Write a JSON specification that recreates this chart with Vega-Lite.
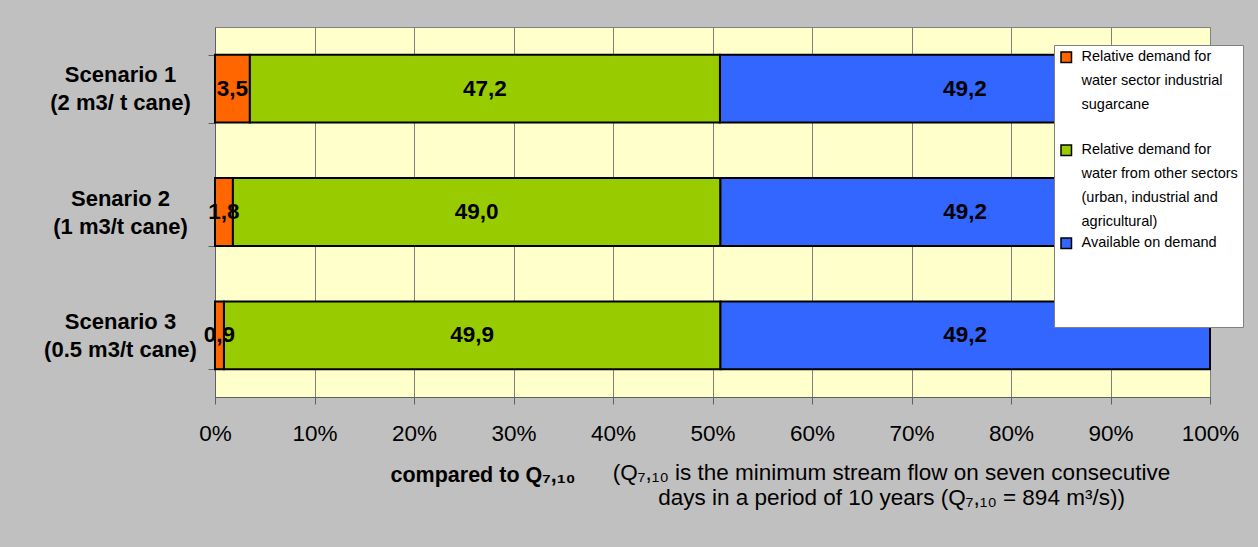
{
  "$schema": "https://vega.github.io/schema/vega-lite/v6.json",
  "width": 995,
  "height": 370,
  "autosize": {"type": "none"},
  "padding": {"left": 215, "top": 27, "right": 48, "bottom": 150},
  "background": "#C0C0C0",
  "config": {
    "font": "Liberation Sans",
    "locale": {"number": {"decimal": ",", "thousands": ".", "grouping": [3], "currency": ["", ""]}},
    "view": {"fill": "#FFFFCC", "stroke": "#808080", "strokeWidth": 1}
  },
  "data": {
    "values": [
      {"scenario": "Scenario 1 (2 m3/ t cane)", "part": "Relative demand for water sector industrial sugarcane", "idx": 1, "value": 3.5},
      {"scenario": "Scenario 1 (2 m3/ t cane)", "part": "Relative demand for water from other sectors (urban, industrial and agricultural)", "idx": 2, "value": 47.2},
      {"scenario": "Scenario 1 (2 m3/ t cane)", "part": "Available on demand", "idx": 3, "value": 49.2},
      {"scenario": "Senario 2 (1 m3/t cane)", "part": "Relative demand for water sector industrial sugarcane", "idx": 1, "value": 1.8},
      {"scenario": "Senario 2 (1 m3/t cane)", "part": "Relative demand for water from other sectors (urban, industrial and agricultural)", "idx": 2, "value": 49.0},
      {"scenario": "Senario 2 (1 m3/t cane)", "part": "Available on demand", "idx": 3, "value": 49.2},
      {"scenario": "Scenario 3 (0.5 m3/t cane)", "part": "Relative demand for water sector industrial sugarcane", "idx": 1, "value": 0.9},
      {"scenario": "Scenario 3 (0.5 m3/t cane)", "part": "Relative demand for water from other sectors (urban, industrial and agricultural)", "idx": 2, "value": 49.9},
      {"scenario": "Scenario 3 (0.5 m3/t cane)", "part": "Available on demand", "idx": 3, "value": 49.2}
    ]
  },
  "encoding": {
    "y": {
      "field": "scenario",
      "type": "nominal",
      "sort": null,
      "scale": {"paddingInner": 0.45, "paddingOuter": 0.225},
      "axis": {
        "tickBand": "extent",
        "tickSize": 7,
        "tickColor": "#606060",
        "domainColor": "#606060",
        "labelAlign": "center",
        "labelBaseline": "middle",
        "labelPadding": 88,
        "labelOffset": -14,
        "labelFontSize": 22,
        "labelFontWeight": "bold",
        "labelColor": "#000000",
        "labelLineHeight": 28,
        "labelLimit": 300,
        "labelExpr": "[slice(datum.label, 0, indexof(datum.label, ' (')), slice(datum.label, indexof(datum.label, ' (') + 1)]",
        "title": "compared to Q₇,₁₀",
        "titleAngle": 0,
        "titleAlign": "left",
        "titleBaseline": "top",
        "titleX": 175,
        "titleY": 437,
        "titleFontSize": 21.5,
        "titleFontWeight": "bold",
        "titleColor": "#000000"
      }
    }
  },
  "layer": [
    {
      "mark": {"type": "bar", "stroke": "#000000", "strokeWidth": 2},
      "encoding": {
        "x": {
          "field": "value",
          "type": "quantitative",
          "stack": "normalize",
          "scale": {"domain": [0, 1], "nice": false},
          "axis": {
            "format": ".0%",
            "values": [0, 0.1, 0.2, 0.3, 0.4, 0.5, 0.6, 0.7, 0.8, 0.9, 1],
            "grid": true,
            "gridColor": "#808080",
            "gridWidth": 1,
            "gridOpacity": 1,
            "tickSize": 7,
            "tickColor": "#606060",
            "domainColor": "#606060",
            "labelFontSize": 22.5,
            "labelColor": "#000000",
            "labelPadding": 18,
            "labelFlush": false,
            "title": ["(Q₇,₁₀ is the minimum stream flow on seven consecutive", "days in a period of 10 years (Q₇,₁₀ = 894 m³/s))"],
            "titleFontSize": 22.5,
            "titleFontWeight": "normal",
            "titleColor": "#000000",
            "titleAlign": "center",
            "titleBaseline": "top",
            "titleLineHeight": 25,
            "titleX": 676,
            "titleY": 64
          }
        },
        "color": {
          "field": "part",
          "type": "nominal",
          "scale": {
            "domain": ["Relative demand for water sector industrial sugarcane", "Relative demand for water from other sectors (urban, industrial and agricultural)", "Available on demand"],
            "range": ["#FF6600", "#99CC00", "#3366FF"]
          },
          "legend": {
            "title": null,
            "orient": "none",
            "legendX": 839,
            "legendY": 18,
            "fillColor": "#FFFFFF",
            "strokeColor": "#808080",
            "padding": 5,
            "symbolType": "square",
            "symbolSize": 110,
            "symbolStrokeColor": "#000000",
            "symbolStrokeWidth": 1.5,
            "symbolOpacity": 1,
            "labelOffset": 8,
            "labelFontSize": 14.5,
            "labelColor": "#000000",
            "labelBaseline": "middle",
            "labelLimit": 250,
            "rowPadding": 6,
            "encode": {"labels": {"update": {"lineHeight": {"value": 24}}}},
            "labelExpr": "datum.label == 'Relative demand for water sector industrial sugarcane' ? ['Relative demand for', 'water sector industrial', 'sugarcane', ''] : datum.label == 'Available on demand' ? ['Available on demand', '', '', ''] : ['Relative demand for', 'water from other sectors', '(urban, industrial and', 'agricultural)']"
          }
        },
        "order": {"field": "idx", "type": "quantitative"}
      }
    },
    {
      "mark": {"type": "text", "fontSize": 22.5, "fontWeight": "bold", "color": "#000000"},
      "encoding": {
        "x": {"field": "value", "type": "quantitative", "stack": "normalize", "bandPosition": 0.5},
        "detail": {"field": "part"},
        "text": {"field": "value", "type": "quantitative", "format": ".1f"},
        "order": {"field": "idx", "type": "quantitative"}
      }
    }
  ]
}
